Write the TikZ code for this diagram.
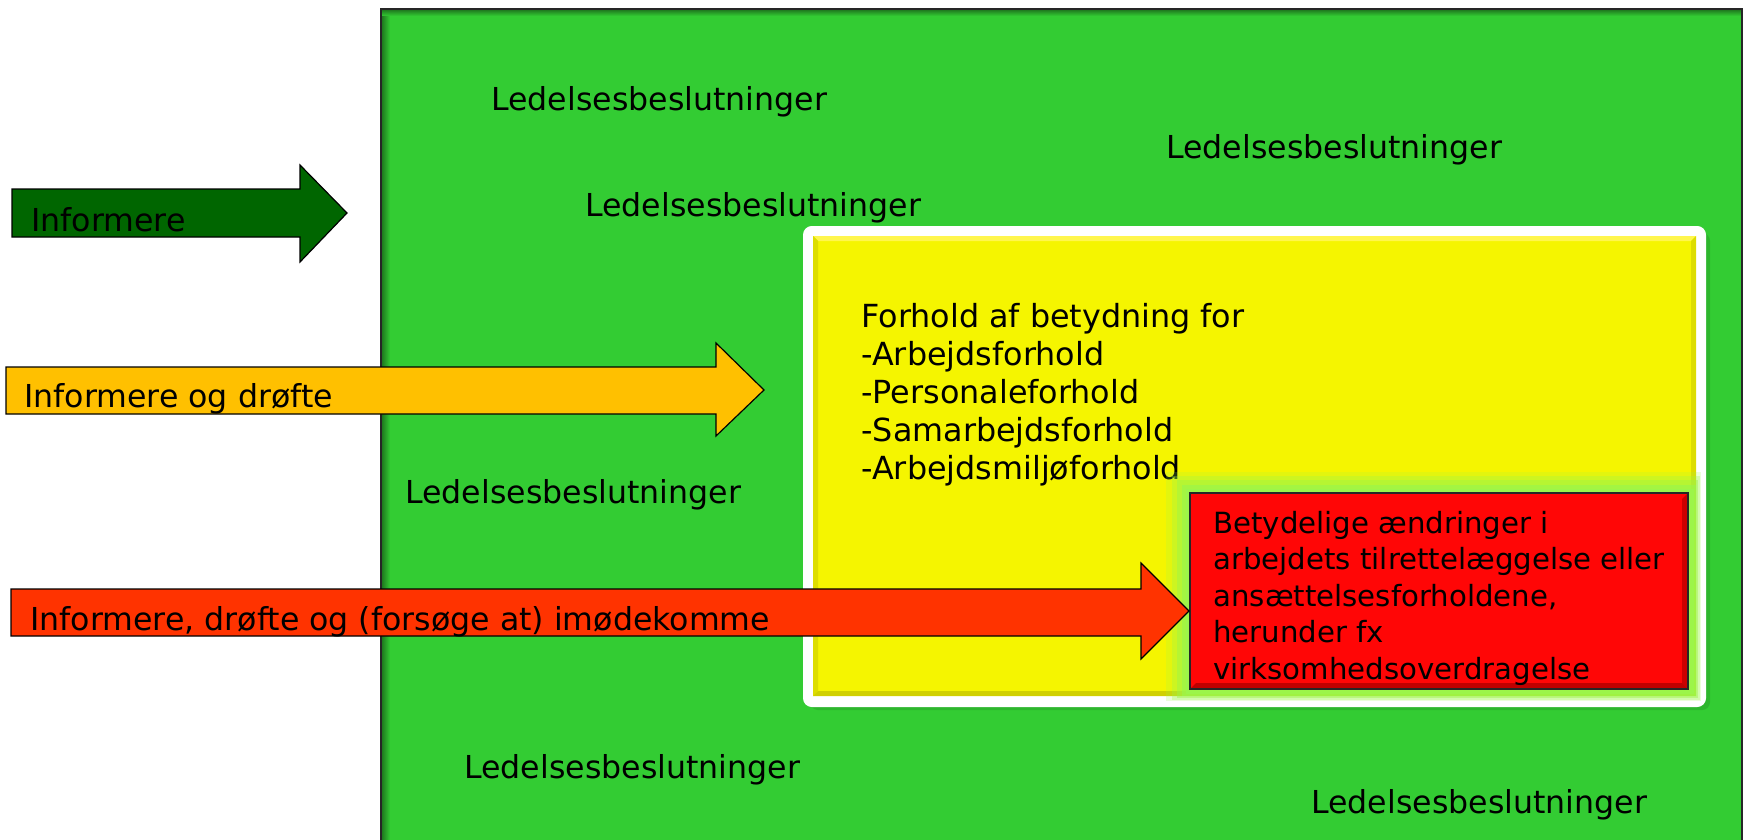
\documentclass[tikz,border=0pt]{standalone}
\usepackage{fontspec}
\setmainfont{DejaVu Sans}
\definecolor{grn}{HTML}{33CC33}
\definecolor{dgrn}{HTML}{006600}
\definecolor{org}{HTML}{FFC000}
\definecolor{rorg}{HTML}{FF3300}
\definecolor{yel}{HTML}{F5F500}
\definecolor{glow}{HTML}{9CF54A}
\definecolor{redb}{HTML}{FF0606}
\begin{document}
\begin{tikzpicture}[x=0.5pt,y=-0.5pt,
  lbl/.style={anchor=base west, inner sep=0pt, font=\fontsize{15.8}{19}\selectfont},
  redlbl/.style={anchor=base west, inner sep=0pt, align=left, font=\fontsize{14.6}{18.2}\selectfont},
  yellbl/.style={anchor=base west, inner sep=0pt, align=left, font=\fontsize{15.9}{19}\selectfont},
  arrowshape/.style={draw=black, line width=0.6pt, line join=miter}]
\useasboundingbox (0,0) rectangle (1746,840);
% green field
\fill[grn] (381,9) rectangle (1742,845);
\shade[left color=grn!55!black, right color=grn] (381,9) rectangle (390,845);
\shade[top color=grn!55!black, bottom color=grn] (381,9) rectangle (1742,16);
\draw[black!85, line width=1pt] (381,845) -- (381,9) -- (1742,9) -- (1742,845);
\node[lbl] (l1) at (491,111) {Ledelsesbeslutninger};
\node[lbl] (l2) at (1166,159) {Ledelsesbeslutninger};
\node[lbl] (l3) at (585,216) {Ledelsesbeslutninger};
\node[lbl] (l4) at (405,503) {Ledelsesbeslutninger};
\node[lbl] (l5) at (464,778) {Ledelsesbeslutninger};
\node[lbl] (l6) at (1311,813) {Ledelsesbeslutninger};
% yellow box with shadow and white frame
\fill[grn!70!black, opacity=0.35, rounded corners=4pt] (810,233) rectangle (1710,710);
\draw[white, line width=3pt, fill=white, rounded corners=3pt] (806,229) rectangle (1703,704);
\fill[yel] (813,236) rectangle (1696,696);
\fill[yellow!70!white] (813,236) -- (1696,236) -- (1691,241) -- (818,241) -- cycle;
\fill[yel!90!black] (813,236) -- (818,241) -- (818,691) -- (813,696) -- cycle;
\fill[yel!90!black] (1696,236) -- (1696,696) -- (1691,691) -- (1691,241) -- cycle;
\fill[yel!85!black] (813,696) -- (1696,696) -- (1691,691) -- (818,691) -- cycle;
\node[yellbl] (yt) at (861,479) {Forhold af betydning for\\-Arbejdsforhold\\-Personaleforhold\\-Samarbejdsforhold\\-Arbejdsmilj\o forhold};
% glow
\fill[glow, opacity=0.2] (1166,472) rectangle (1701,701);
\fill[glow, opacity=0.3] (1172,476) rectangle (1700,700);
\fill[glow, opacity=0.45] (1177,480) rectangle (1698,698);
\fill[glow, opacity=0.7] (1182,485) rectangle (1696,696);
\fill[glow] (1186,489) rectangle (1694,694);
% red box
\fill[redb] (1190,493) rectangle (1688,689);
\fill[red!15!redb] (1190,493) -- (1688,493) -- (1682,499) -- (1196,499) -- cycle;
\fill[red!80!black] (1688,493) -- (1688,689) -- (1682,683) -- (1682,499) -- cycle;
\fill[red!75!black] (1190,689) -- (1688,689) -- (1682,683) -- (1196,683) -- cycle;
\draw[black!85, line width=1pt] (1190,493) rectangle (1688,689);
\node[redlbl] (rt) at (1213,679) {Betydelige \ae ndringer i\\arbejdets tilrettel\ae ggelse eller\\ans\ae ttelsesforholdene,\\herunder fx\\virksomhedsoverdragelse};
% arrows
\coordinate (t1) at (347,213);
\coordinate (t2) at (764,390);
\coordinate (t3) at (1189,611);
\filldraw[arrowshape, fill=dgrn] (12,189) -- (300,189) -- (300,165) -- (t1) -- (300,262) -- (300,237) -- (12,237) -- cycle;
\filldraw[arrowshape, fill=org] (6,367) -- (716,367) -- (716,343) -- (t2) -- (716,436) -- (716,414) -- (6,414) -- cycle;
\filldraw[arrowshape, fill=rorg] (11,589) -- (1141,589) -- (1141,563) -- (t3) -- (1141,659) -- (1141,636) -- (11,636) -- cycle;
\node[lbl] (a1) at (31,231) {Informere};
\node[lbl] (a2) at (24,407) {Informere og dr\o fte};
\node[lbl] (a3) at (30,630) {Informere, dr\o fte og (fors\o ge at) im\o dekomme};
\end{tikzpicture}
\end{document}
